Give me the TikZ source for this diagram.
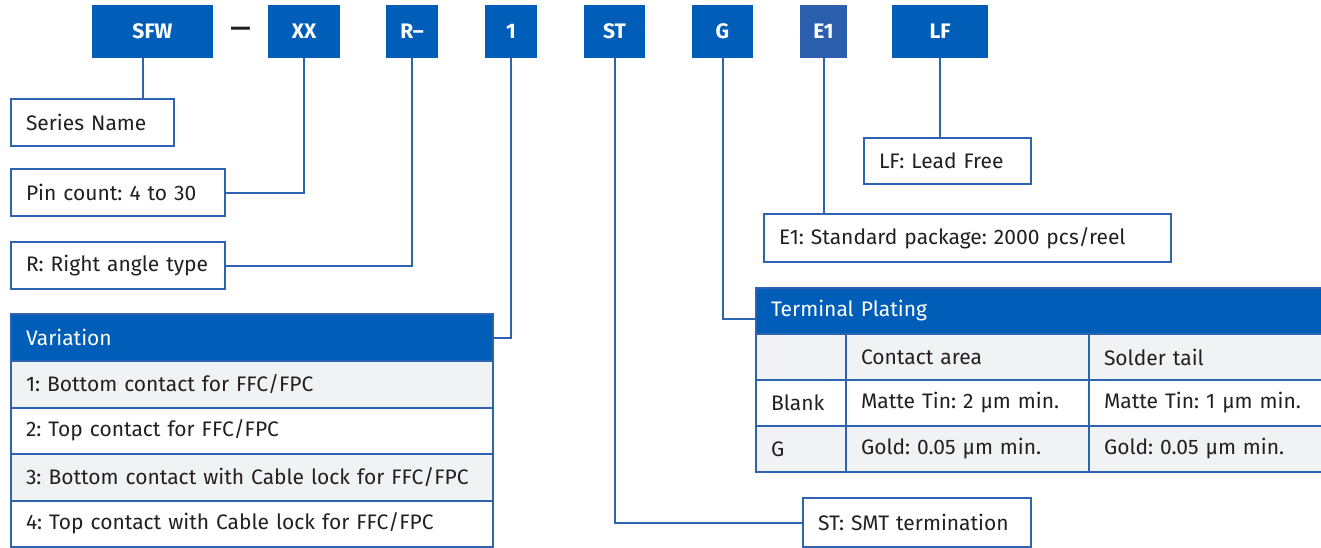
\documentclass[tikz,border=0pt]{standalone}
\usepackage{fontspec}
\setmainfont{Fira Sans}
\usetikzlibrary{calc}
\definecolor{codeblue}{HTML}{005EB8}
\definecolor{codeblueB}{HTML}{2B5EAD}
\definecolor{lineblue}{HTML}{2D63B1}
\definecolor{rowgray}{HTML}{F1F2F4}
\definecolor{inkgray}{HTML}{231F20}
\frenchspacing
\tikzset{
  codebox/.style={fill=codeblue, text=white, inner sep=0pt, minimum height=53pt, font=\bfseries\fontsize{21}{25}\selectfont},
  cell/.style={draw=lineblue, line width=2pt, fill=white, anchor=north west, inner xsep=15pt, inner ysep=0pt, align=left},
  headcell/.style={cell, fill=codeblue, text=white},
  link/.style={draw=lineblue, line width=2pt}
}
\begin{document}
\begin{tikzpicture}[x=1pt, y=-1pt, font=\fontsize{21}{25}\selectfont, text=inkgray]
			%%%%% START %%%%%
			\useasboundingbox (0,0) rectangle (1321,547);
			
			% part number boxes
			\node[codebox, minimum width=121pt] (sfw) at (152.5, 31.5) {SFW};
			\node[font=\bfseries\fontsize{25}{28}\selectfont] (dash) at (240.5, 31.5) {—};
			\node[codebox, minimum width=72pt] (xx) at (304, 31.5) {XX};
			\node[codebox, minimum width=52pt] (rdash) at (412, 31.5) {R–};
			\node[codebox, minimum width=52pt] (one) at (511, 31.5) {1};
			\node[codebox, minimum width=61pt] (st) at (614.5, 31.5) {ST};
			\node[codebox, minimum width=61pt] (g) at (722.5, 31.5) {G};
			\node[codebox, minimum width=47pt, fill=codeblueB] (eone) at (823.5, 31.5) {E1};
			\node[codebox, minimum width=96pt] (lf) at (940, 31.5) {LF};
			
			% single boxes
			\node[cell, minimum height=47pt, text width=133pt] (series) at (10, 98) {Series Name};
			\node[cell, minimum height=47pt, text width=184pt] (pin) at (10, 168) {Pin count: 4 to 30};
			\node[cell, minimum height=47pt, text width=184pt] (rang) at (10, 241) {R: Right angle type};
			\node[cell, minimum height=46pt, text width=137pt] (lead) at (863, 137) {LF: Lead Free};
			\node[cell, minimum height=48pt, text width=377pt] (eonebox) at (763, 213) {E1: Standard package: 2000 pcs/reel};
			\node[cell, minimum height=49pt, text width=198pt] (smt) at (802, 497) {ST: SMT termination};
			
			% variation table
			\node[headcell, minimum height=47pt, text width=452pt] (varhead) at (10, 313) {Variation};
			\node[cell, fill=rowgray, minimum height=46.5pt, text width=452pt] (varone) at (10, 360) {1: Bottom contact for FFC/FPC};
			\node[cell, minimum height=46.5pt, text width=452pt] (vartwo) at (10, 406.5) {2: Top contact for FFC/FPC};
			\node[cell, fill=rowgray, minimum height=46.5pt, text width=452pt] (varthree) at (10, 453) {3: Bottom contact with Cable lock for FFC/FPC};
			\node[cell, minimum height=46.5pt, text width=452pt] (varfour) at (10, 499.5) {4: Top contact with Cable lock for FFC/FPC};
			
			% terminal plating table
			\node[headcell, minimum height=46pt, text width=545pt] (plathead) at (755, 287) {Terminal Plating};
			\node[cell, fill=rowgray, minimum height=46pt, text width=60pt] (pa) at (755, 333) {};
			\node[cell, fill=rowgray, minimum height=46pt, text width=213pt] (pb) at (845, 333) {Contact area};
			\node[cell, fill=rowgray, minimum height=46pt, text width=212pt] (pc) at (1088, 333) {Solder tail};
			\node[cell, minimum height=46pt, text width=60pt] (qa) at (755, 379) {Blank};
			\node[cell, minimum height=46pt, text width=213pt] (qb) at (845, 379) {Matte Tin: 2 µm min.};
			\node[cell, minimum height=46pt, text width=212pt] (qc) at (1088, 379) {Matte Tin: 1 µm min.};
			\node[cell, fill=rowgray, minimum height=46pt, text width=60pt] (ra) at (755, 425) {G};
			\node[cell, fill=rowgray, minimum height=46pt, text width=213pt] (rb) at (845, 425) {Gold: 0.05 µm min.};
			\node[cell, fill=rowgray, minimum height=46pt, text width=212pt] (rc) at (1088, 425) {Gold: 0.05 µm min.};
			
			% connectors
			\coordinate (sfwtap) at ($(sfw.south)+(-9.5,0)$);
			\draw[link] (sfwtap) -- (sfwtap |- series.north);
			\draw[link] (xx.south) |- (pin.east);
			\draw[link] (rdash.south) |- (rang.east);
			\draw[link] (one.south) |- (varhead.east);
			\draw[link] (st.south) |- (smt.west);
			\coordinate (plattap) at ($(plathead.west)+(0,8)$);
			\draw[link] (g.south) |- (plattap);
			\draw[link] (eone.south) -- (eone.south |- eonebox.north);
			\draw[link] (lf.south) -- (lf.south |- lead.north);
			
			%%%%% END %%%%%
		\end{tikzpicture}
\end{document}
